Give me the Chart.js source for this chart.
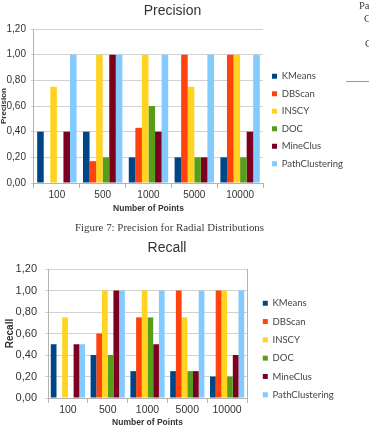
<!DOCTYPE html>
<html>
<head>
<meta charset="utf-8">
<script src="https://cdn.jsdelivr.net/npm/chart.js@4.4.1/dist/chart.umd.min.js"></script>
<style>
  html, body { margin: 0; padding: 0; background: #fff; width: 369px; height: 436px; overflow: hidden; }
  .wrap { position: absolute; left: 0; }
  #topWrap { top: 0; width: 360px; height: 240px; }
  #bottomWrap { top: 236px; width: 345px; height: 226px; }
  .serif { position: absolute; font-family: "Liberation Serif", serif; color: #3a3a3a; font-size: 10.5px; white-space: nowrap; line-height: 1; }
  #rule { position: absolute; left: 346px; top: 81px; width: 23px; height: 0; border-top: 1.5px solid #9a9a9a; }
</style>
</head>
<body>
<div class="wrap" id="topWrap"><canvas id="precisionChart"></canvas></div>
<div class="wrap" id="bottomWrap"><canvas id="recallChart"></canvas></div>
<div class="serif" style="left:75px; top:221.5px; font-size:10.9px;">Figure 7: Precision for Radial Distributions</div>
<div class="serif" style="left:359px; top:1px;">Pa</div>
<div class="serif" style="left:364px; top:14px;">C</div>
<div class="serif" style="left:365px; top:39px;">C</div>
<div id="rule"></div>
<script>
// data
const categories = ['100', '500', '1000', '5000', '10000'];
const seriesNames = ['KMeans', 'DBScan', 'INSCY', 'DOC', 'MineClus', 'PathClustering'];
const seriesColors = ['#004586', '#ff420e', '#ffd320', '#579d1c', '#7e0021', '#83caff'];
const yTicks = [0, 0.2, 0.4, 0.6, 0.8, 1.0, 1.2];

const precisionKMeans = [0.40, 0.40, 0.20, 0.20, 0.20];
const precisionDBScan = [0, 0.17, 0.43, 1.00, 1.00];
const precisionINSCY = [0.75, 1.00, 1.00, 0.75, 1.00];
const precisionDOC = [0, 0.20, 0.60, 0.20, 0.20];
const precisionMineClus = [0.40, 1.00, 0.40, 0.20, 0.40];
const precisionPathClustering = [1.00, 1.00, 1.00, 1.00, 1.00];

const recallKMeans = [0.50, 0.40, 0.25, 0.25, 0.20];
const recallDBScan = [0, 0.60, 0.75, 1.00, 1.00];
const recallINSCY = [0.75, 1.00, 1.00, 0.75, 1.00];
const recallDOC = [0, 0.40, 0.75, 0.25, 0.20];
const recallMineClus = [0.50, 1.00, 0.50, 0.25, 0.40];
const recallPathClustering = [0.50, 1.00, 1.00, 1.00, 1.00];

const sans = '"Liberation Sans", Arial, sans-serif';
const textColor = '#333';
const gridColor = '#d2d2d2';
const axisColor = '#b3b3b3';

function makeChart(id, title, yTitle, series, o) {
  return new Chart(document.getElementById(id), {
    type: 'bar',
    data: {
      labels: categories,
      datasets: series.map((d, i) => ({
        label: seriesNames[i],
        data: d,
        yAxisID: 'y',
        backgroundColor: seriesColors[i],
        borderWidth: 0,
        categoryPercentage: 0.86,
        barPercentage: 1
      }))
    },
    options: {
      responsive: true,
      maintainAspectRatio: false,
      animation: false,
      layout: { padding: { right: o.padRight } },
      plugins: {
        title: {
          display: true,
          text: title,
          color: textColor,
          font: { family: sans, size: 14, weight: 'normal' },
          padding: { top: o.titleTop, bottom: o.titleBottom }
        },
        legend: {
          position: 'right',
          maxWidth: o.legendWidth,
          labels: {
            boxWidth: 5,
            boxHeight: 5,
            padding: o.legendPad,
            color: '#444',
            font: { family: 'Lato', size: 9.5 }
          }
        },
        tooltip: { enabled: false }
      },
      scales: {
        x: {
          grid: { offset: true, drawOnChartArea: false, tickLength: 5, color: axisColor },
          border: { color: axisColor },
          ticks: { padding: 1, color: textColor, font: { family: sans, size: o.xFont } },
          title: {
            display: true,
            text: 'Number of Points',
            color: textColor,
            font: { family: sans, size: 8.5, weight: 'bold' },
            padding: { top: o.xTitleTop, bottom: o.xTitleBottom }
          }
        },
        y: {
          min: 0,
          max: 1.2,
          afterBuildTicks: s => { s.ticks = yTicks.map(v => ({ value: v })); },
          ticks: {
            padding: o.yPad,
            color: textColor,
            font: { family: sans, size: o.yFont },
            callback: v => v.toFixed(2).replace('.', ',')
          },
          grid: { color: gridColor, tickLength: 3 },
          border: { color: axisColor },
          title: {
            display: true,
            text: yTitle,
            color: textColor,
            font: { family: sans, size: o.yTitleFont, weight: 'bold' },
            padding: { top: o.yTitleTop, bottom: o.yTitleBottom }
          }
        },
        yGap: {
          type: 'linear',
          position: 'right',
          display: true,
          afterFit: s => { s.width = o.gap; },
          ticks: { display: false },
          grid: { display: false },
          border: { display: o.rightBorder, color: axisColor }
        }
      }
    }
  });
}

makeChart('precisionChart', 'Precision', 'Precision',
  [precisionKMeans, precisionDBScan, precisionINSCY, precisionDOC, precisionMineClus, precisionPathClustering],
  { padRight: 15, titleTop: 3, titleBottom: 9.2, legendWidth: 81, legendPad: 8, gap: 1,
    xFont: 10, xTitleTop: 1.9, xTitleBottom: 25.9, yFont: 10, yPad: 5,
    yTitleFont: 8, yTitleTop: -1.3, yTitleBottom: -6.8, rightBorder: false });

makeChart('recallChart', 'Recall', 'Recall',
  [recallKMeans, recallDBScan, recallINSCY, recallDOC, recallMineClus, recallPathClustering],
  { padRight: 11, titleTop: 3.6, titleBottom: 12.6, legendWidth: 80, legendPad: 8.8, gap: 7,
    xFont: 10.5, xTitleTop: 0.3, xTitleBottom: 33.9, yFont: 11, yPad: 8,
    yTitleFont: 10, yTitleTop: 4.5, yTitleBottom: -8.9, rightBorder: true });
</script>
</body>
</html>
